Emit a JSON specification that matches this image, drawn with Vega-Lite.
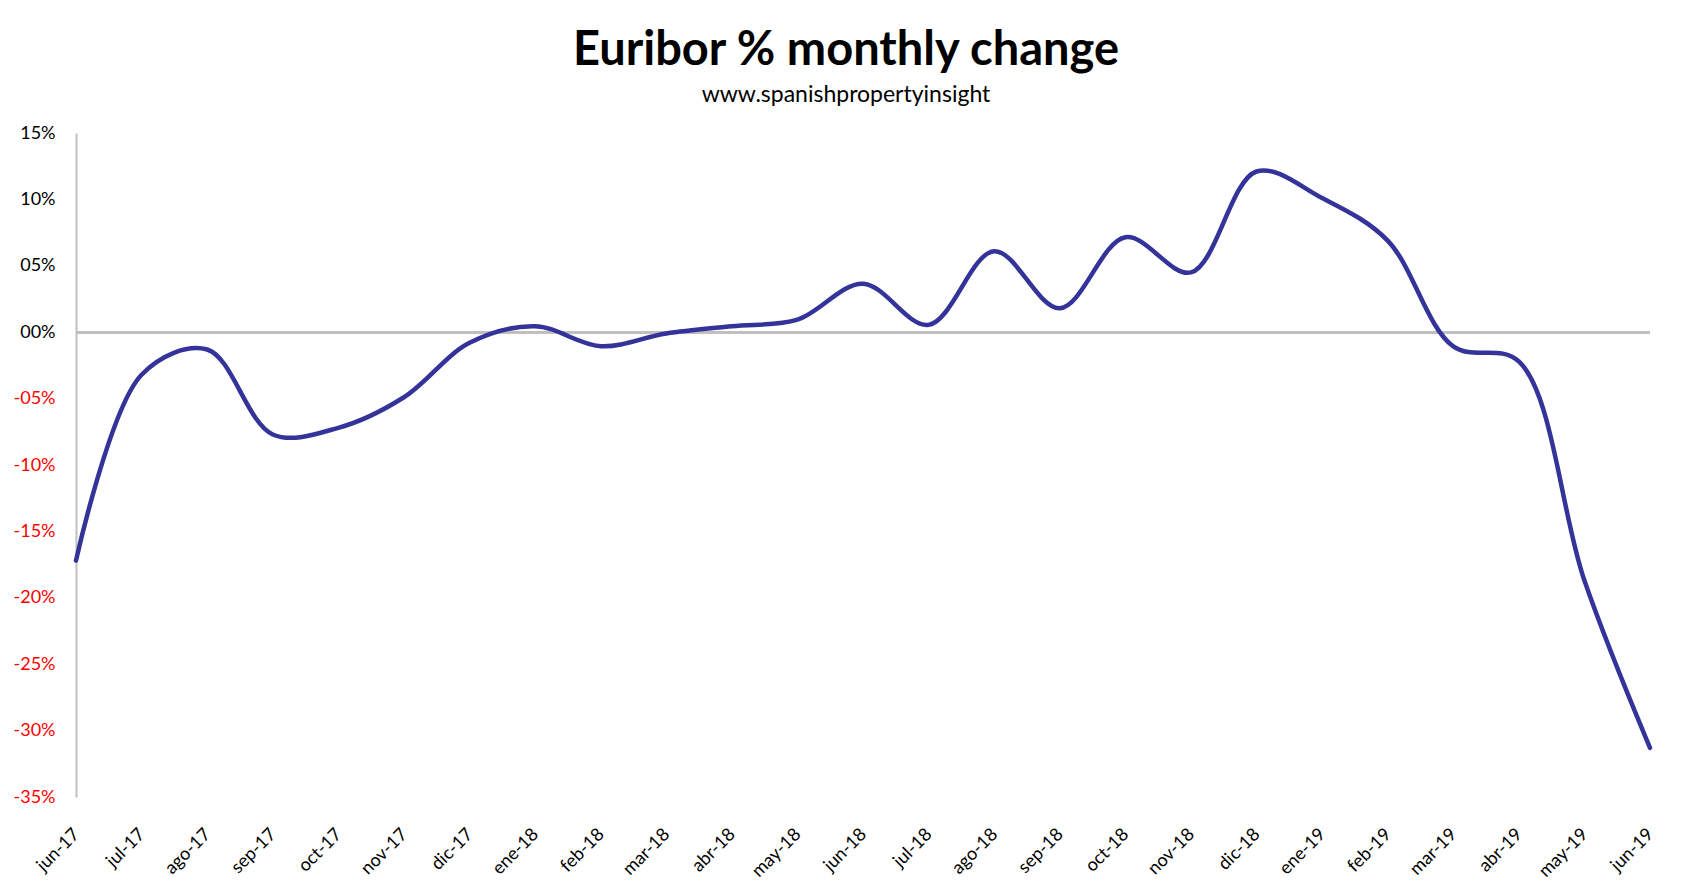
{
  "$schema": "https://vega.github.io/schema/vega-lite/v6.json",
  "autosize": {"type": "none"},
  "width": 1574,
  "height": 664,
  "padding": {"left": 76, "top": 133, "right": 41, "bottom": 96},
  "background": "white",
  "config": {"view": {"stroke": null}, "font": "Lato"},
  "title": {
    "text": "Euribor % monthly change",
    "subtitle": "www.spanishpropertyinsight",
    "anchor": "middle",
    "dx": -17,
    "font": "Lato",
    "fontSize": 47,
    "fontWeight": "bold",
    "color": "black",
    "subtitleFont": "Lato",
    "subtitleFontSize": 23,
    "subtitleColor": "black",
    "subtitlePadding": 9,
    "offset": 16
  },
  "data": {
    "values": [
      {"month": "jun-17", "change": -17.2},
      {"month": "jul-17", "change": -3.2},
      {"month": "ago-17", "change": -1.3},
      {"month": "sep-17", "change": -7.7},
      {"month": "oct-17", "change": -7.2},
      {"month": "nov-17", "change": -4.9},
      {"month": "dic-17", "change": -0.8},
      {"month": "ene-18", "change": 0.45},
      {"month": "feb-18", "change": -1.05},
      {"month": "mar-18", "change": -0.1},
      {"month": "abr-18", "change": 0.45},
      {"month": "may-18", "change": 0.95},
      {"month": "jun-18", "change": 3.65},
      {"month": "jul-18", "change": 0.55},
      {"month": "ago-18", "change": 6.1},
      {"month": "sep-18", "change": 1.8},
      {"month": "oct-18", "change": 7.15},
      {"month": "nov-18", "change": 4.5},
      {"month": "dic-18", "change": 12.1},
      {"month": "ene-19", "change": 10.1},
      {"month": "feb-19", "change": 6.9},
      {"month": "mar-19", "change": -1.07},
      {"month": "abr-19", "change": -2.2},
      {"month": "may-19", "change": -18.7},
      {"month": "jun-19", "change": -31.3}
    ]
  },
  "encoding": {
    "x": {
      "field": "month",
      "type": "ordinal",
      "sort": null,
      "scale": {"type": "point", "padding": 0},
      "axis": {
        "title": null,
        "domain": false,
        "ticks": false,
        "grid": false,
        "labelAngle": -45,
        "labelAlign": "right",
        "labelBaseline": "top",
        "labelPadding": 28,
        "labelOffset": -6,
        "labelFont": "Lato",
        "labelFontSize": 18,
        "labelColor": "black"
      }
    },
    "y": {
      "field": "change",
      "type": "quantitative",
      "scale": {"domain": [-35, 15], "nice": false, "zero": false},
      "axis": {
        "title": null,
        "values": [-35, -30, -25, -20, -15, -10, -5, 0, 5, 10, 15],
        "grid": false,
        "ticks": false,
        "domain": true,
        "domainColor": "#bfbfbf",
        "domainWidth": 2,
        "labelPadding": 21,
        "labelFont": "Lato",
        "labelFontSize": 18,
        "labelExpr": "(datum.value < 0 ? '-' : '') + (abs(datum.value) < 10 ? '0' : '') + abs(datum.value) + '%'",
        "labelColor": {"condition": {"test": "datum.value < 0", "value": "#ff0000"}, "value": "black"}
      }
    }
  },
  "layer": [
    {
      "mark": {"type": "rule", "color": "#bfbfbf", "strokeWidth": 2},
      "encoding": {"y": {"datum": 0}, "x": null}
    },
    {
      "mark": {"type": "line", "color": "#333399", "strokeWidth": 4.5, "interpolate": "catmull-rom", "strokeCap": "round"}
    }
  ]
}
